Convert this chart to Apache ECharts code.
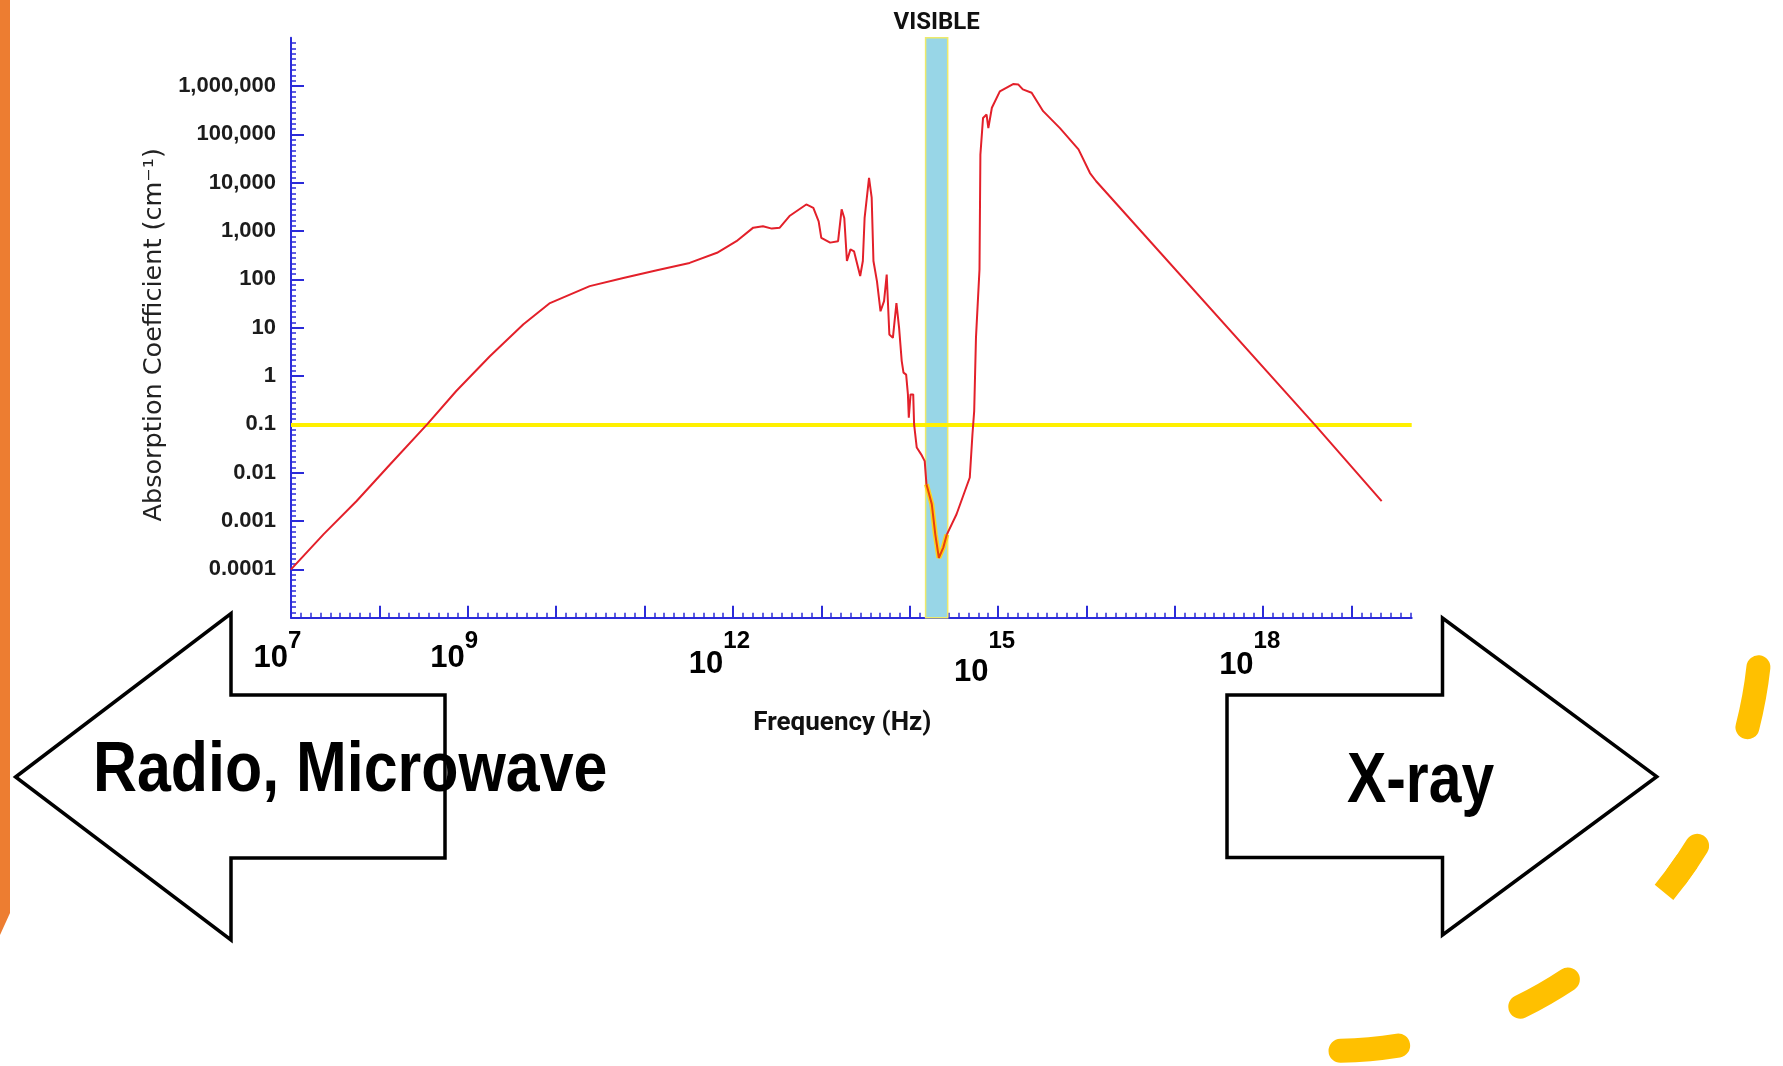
<!DOCTYPE html>
<html>
<head>
<meta charset="utf-8">
<script src="https://cdn.jsdelivr.net/npm/echarts@6/dist/echarts.min.js"></script>
<style>
html,body{margin:0;padding:0;background:#fff;}
#chart{width:1783px;height:1066px;}
</style>
</head>
<body>
<div id="chart"></div>
<script>
// ---- data (log10 units) ----
// frequency exponent: log10(f / Hz)
const logFrequency = [
  7.00, 7.37, 7.74, 8.12, 8.54, 8.87, 9.25, 9.63, 9.93, 10.38,
  10.76, 11.14, 11.51, 11.82, 12.04, 12.23, 12.34, 12.44, 12.53, 12.64,
  12.83, 12.91, 12.97, 13.00, 13.10, 13.19, 13.23, 13.26, 13.29, 13.33,
  13.37, 13.44, 13.47, 13.49, 13.54, 13.57, 13.59, 13.63, 13.67, 13.71,
  13.74, 13.77, 13.81, 13.85, 13.88, 13.91, 13.93, 13.96, 13.98, 13.99,
  14.01, 14.04, 14.05, 14.08, 14.13, 14.17, 14.19, 14.25, 14.29, 14.33,
  14.38, 14.42, 14.53, 14.68, 14.71, 14.73, 14.75, 14.79, 14.80, 14.83,
  14.87, 14.89, 14.93, 15.02, 15.17, 15.23, 15.28, 15.38, 15.51, 15.70,
  15.91, 16.04, 16.11, 18.58, 19.34
];
// absorption exponent: log10(alpha / cm^-1)
const logAbsorption = [
  -4.00, -3.27, -2.59, -1.83, -1.00, -0.31, 0.41, 1.07, 1.51, 1.86,
  2.03, 2.19, 2.34, 2.55, 2.79, 3.07, 3.10, 3.05, 3.07, 3.31,
  3.55, 3.48, 3.20, 2.86, 2.76, 2.79, 3.45, 3.27, 2.38, 2.62,
  2.58, 2.07, 2.38, 3.27, 4.10, 3.69, 2.38, 1.96, 1.34, 1.55,
  2.10, 0.86, 0.79, 1.51, 1.00, 0.31, 0.07, 0.03, -0.38, -0.86,
  -0.38, -0.38, -1.00, -1.48, -1.62, -1.76, -2.24, -2.65, -3.28, -3.76,
  -3.55, -3.28, -2.86, -2.10, -1.21, -0.72, 0.79, 2.21, 4.58, 5.34,
  5.41, 5.13, 5.55, 5.89, 6.04, 6.03, 5.93, 5.86, 5.48, 5.13,
  4.69, 4.20, 4.03, -1.00, -2.59
];
const xTickExponents = [7, 8, 9, 10, 11, 12, 13, 14, 15, 16, 17, 18, 19];
const xLabelExponents = [7, 9, 12, 15, 18];
const yTickExponents = [-4, -3, -2, -1, 0, 1, 2, 3, 4, 5, 6];
const yTickLabels = ['0.0001', '0.001', '0.01', '0.1', '1', '10', '100', '1,000', '10,000', '100,000', '1,000,000'];
const visibleBand = [14.18, 14.43];   // log10 Hz
const thresholdLog = -1;              // 0.1 cm^-1
const xRange = [7, 19.68];
const yRange = [-5, 7];

// ---- styles ----
const AXIS_BLUE = '#2b2bd9';
const ARIAL = '"Liberation Sans", Arial, sans-serif';
const ROBOTO = 'Roboto, "Liberation Sans", sans-serif';
// per-label line box heights (style only) to mimic the hand-placed labels
const xLabelBox = {7: 58, 9: 58, 12: 69, 15: 85, 18: 72};

const rich = {};
xLabelExponents.forEach(function (e) {
  rich['b' + e] = {fontFamily: ARIAL, fontWeight: 'bold', fontSize: 31, color: '#000', lineHeight: xLabelBox[e]};
  rich['s' + e] = {fontFamily: ARIAL, fontWeight: 'bold', fontSize: 24, color: '#000', lineHeight: 30, verticalAlign: 'top', padding: [0, 27, 0, 0]};
});

const curve = logFrequency.map(function (x, i) { return [x, logAbsorption[i]]; });
// the part of the same curve that lies inside the visible band (drawn highlighted)
const curveInBand = curve.filter(function (p) { return p[0] >= visibleBand[0] && p[0] <= visibleBand[1]; });
const deg = function (d) { return d * Math.PI / 180; };

const chart = echarts.init(document.getElementById('chart'), null, {renderer: 'canvas'});
chart.setOption({
  backgroundColor: '#ffffff',
  animation: false,
  grid: {left: 291, right: 371.3, top: 37.7, bottom: 448.3, containLabel: false},
  xAxis: {
    type: 'value', min: xRange[0], max: xRange[1], interval: 1,
    name: 'Frequency (Hz)', nameLocation: 'middle', nameGap: 93,
    nameTextStyle: {fontFamily: ROBOTO, fontWeight: 'bold', fontSize: 26, color: '#111', padding: [0, 18, 0, 0]},
    axisLine: {show: true, onZero: false, lineStyle: {color: AXIS_BLUE, width: 2}},
    axisTick: {show: true, inside: true, length: 12, customValues: xTickExponents, lineStyle: {color: AXIS_BLUE, width: 2}},
    minorTick: {show: true, splitNumber: 9, length: 5, lineStyle: {color: AXIS_BLUE, width: 1.5}},
    splitLine: {show: false},
    axisLabel: {
      customValues: xLabelExponents, margin: 12, rich: rich,
      formatter: function (v) {
        const e = Math.round(v);
        return xLabelExponents.indexOf(e) >= 0 ? '{b' + e + '|10}{s' + e + '|' + e + '}' : '';
      }
    }
  },
  yAxis: {
    type: 'value', min: yRange[0], max: yRange[1], interval: 1,
    name: 'Absorption Coefficient (cm\u207B\u00B9)', nameLocation: 'middle', nameGap: 115, nameRotate: 90,
    nameTextStyle: {fontFamily: '"DejaVu Sans", sans-serif', fontSize: 25.5, color: '#222', padding: [0, 14, 0, 0]},
    axisLine: {show: true, onZero: false, lineStyle: {color: AXIS_BLUE, width: 2}},
    axisTick: {show: true, inside: true, length: 13, customValues: yTickExponents, lineStyle: {color: AXIS_BLUE, width: 2}},
    minorTick: {show: true, splitNumber: 9, length: 5, lineStyle: {color: AXIS_BLUE, width: 1.5}},
    splitLine: {show: false},
    axisLabel: {
      customValues: yTickExponents, margin: 15, padding: [12, 0, 0, 0],
      fontFamily: ARIAL, fontWeight: 'bold', fontSize: 22, color: '#1c1c1c',
      formatter: function (v) {
        const i = yTickExponents.indexOf(Math.round(v));
        return i >= 0 ? yTickLabels[i] : '';
      }
    }
  },
  series: [{
    type: 'line', z: 10, data: curve, showSymbol: false, symbol: 'none', smooth: false,
    lineStyle: {color: '#e3202a', width: 2},
    markArea: {
      silent: true, z: 1,
      itemStyle: {color: '#98d6e7', borderColor: '#eeea6a', borderWidth: 1.5},
      label: {show: true, position: 'top', distance: 2, formatter: 'VISIBLE',
        fontFamily: ROBOTO, fontWeight: 'bold', fontSize: 24, color: '#111'},
      data: [[{xAxis: visibleBand[0]}, {xAxis: visibleBand[1]}]]
    },
    markLine: {
      silent: true, z: 5, symbol: ['none', 'none'],
      lineStyle: {color: '#fff000', width: 4, type: 'solid'},
      label: {show: false},
      data: [{yAxis: thresholdLog}]
    }
  }, {
    type: 'line', z: 11, data: curveInBand, showSymbol: false, symbol: 'none', silent: true,
    lineStyle: {color: '#ffd21a', width: 5}
  }, {
    type: 'line', z: 12, data: curveInBand, showSymbol: false, symbol: 'none', silent: true,
    lineStyle: {color: '#e8400c', width: 2}
  }],
  graphic: [
    {type: 'polygon', z: 100, shape: {points: [[0, 0], [10, 0], [10, 913], [0, 935]]}, style: {fill: '#ED7D31'}},
    {type: 'polygon', z: 100, shape: {points: [[15.6, 777], [231, 613.5], [231, 695], [445, 695], [445, 858], [231, 858], [231, 940]]},
      style: {fill: '#ffffff', stroke: '#000000', lineWidth: 3.5, lineJoin: 'miter'}},
    {type: 'polygon', z: 100, shape: {points: [[1656.7, 776.7], [1442.5, 618], [1442.5, 695], [1227, 695], [1227, 857.5], [1442.5, 857.5], [1442.5, 935]]},
      style: {fill: '#ffffff', stroke: '#000000', lineWidth: 3.5, lineJoin: 'miter'}},
    {type: 'text', z: 101, x: 93, y: 772, scaleX: 0.87, style: {text: 'Radio, Microwave', fontFamily: ARIAL, fontWeight: 'bold', fontSize: 70, fill: '#000', align: 'left', verticalAlign: 'middle'}},
    {type: 'text', z: 101, x: 1347, y: 783, scaleX: 0.84, style: {text: 'X-ray', fontFamily: ARIAL, fontWeight: 'bold', fontSize: 70, fill: '#000', align: 'left', verticalAlign: 'middle'}},
    {type: 'arc', z: 90, shape: {cx: 1330, cy: 620, r: 431, startAngle: deg(6.3), endAngle: deg(14.4)}, style: {stroke: '#FFC000', lineWidth: 24, lineCap: 'round', fill: null}},
    {type: 'arc', z: 90, shape: {cx: 1330, cy: 620, r: 431, startAngle: deg(31.6), endAngle: deg(36.5)}, style: {stroke: '#FFC000', lineWidth: 24, lineCap: 'round', fill: null}},
    {type: 'arc', z: 90, shape: {cx: 1330, cy: 620, r: 431, startAngle: deg(34), endAngle: deg(39.2)}, style: {stroke: '#FFC000', lineWidth: 24, lineCap: 'butt', fill: null}},
    {type: 'arc', z: 90, shape: {cx: 1330, cy: 620, r: 431, startAngle: deg(56.5), endAngle: deg(63.8)}, style: {stroke: '#FFC000', lineWidth: 24, lineCap: 'round', fill: null}},
    {type: 'arc', z: 90, shape: {cx: 1330, cy: 620, r: 431, startAngle: deg(80.9), endAngle: deg(88.6)}, style: {stroke: '#FFC000', lineWidth: 24, lineCap: 'round', fill: null}}
  ]
});
</script>
</body>
</html>
